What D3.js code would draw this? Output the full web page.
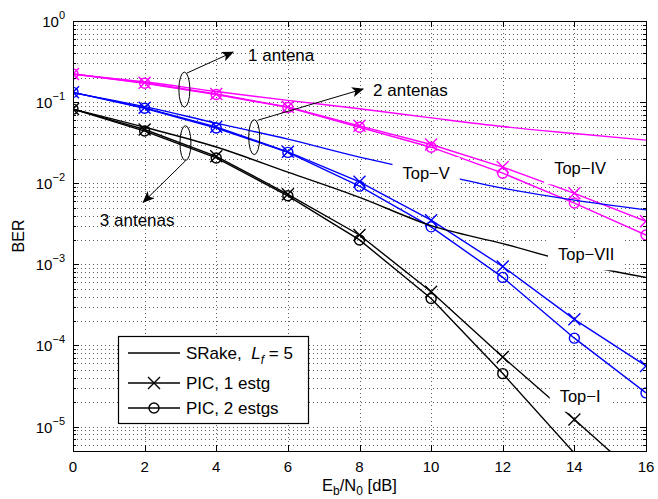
<!DOCTYPE html>
<html>
<head>
<meta charset="UTF-8" />
<script src="https://d3js.org/d3.v7.min.js"></script>
<style>
  body { margin: 0; background: #fff; }
  svg text { font-family: "Liberation Sans", Arial, Helvetica, sans-serif; fill: #000; }
</style>
</head>
<body>
<div id="chart"></div>
<script>
// Eb/N0 points (dB)
const ebn0 = [0, 2, 4, 6, 8, 10, 12, 14, 16];

// 1 antena (magenta)
const srake1 = [0.22, 0.178, 0.135, 0.105, 0.083, 0.064, 0.050, 0.041, 0.034];
const pic1a = [0.222, 0.173, 0.126, 0.087, 0.051, 0.030, 0.0158, 0.0075, 0.0034];
const pic1b = [0.222, 0.171, 0.124, 0.086, 0.049, 0.0278, 0.0133, 0.0057, 0.0023];

// 2 antenas (blue)
const srake2 = [0.13, 0.088, 0.055, 0.035, 0.021, 0.0135, 0.0087, 0.0062, 0.0047];
const pic2a = [0.132, 0.085, 0.0496, 0.0244, 0.0104, 0.0035, 0.00094, 0.00021, 0.000056];
const pic2b = [0.132, 0.084, 0.048, 0.024, 0.0092, 0.0029, 0.00069, 0.000123, 0.000026];

// 3 antenas (black)
const srake3 = [0.082, 0.049, 0.028, 0.0137, 0.0067, 0.0030, 0.0018, 0.00104, 0.00069];
const pic3a = [0.082, 0.046, 0.0215, 0.0073, 0.0023, 0.00046, 0.000072, 0.0000122, 0.000002];
const pic3b = [0.082, 0.044, 0.0205, 0.0070, 0.0020, 0.00038, 0.000045, 0.0000047, 0.0000005];

const xTicks = [0, 2, 4, 6, 8, 10, 12, 14, 16];
const yExps = [0, -1, -2, -3, -4, -5];

// topology labels: [text, x (dB), BER]
const topLabels = [
  ["Top\u2212V", 9.86, 0.0133],
  ["Top\u2212IV", 14.16, 0.0153],
  ["Top\u2212VII", 14.33, 0.00133],
  ["Top\u2212I", 14.16, 0.000024]
];

const width = 658, height = 499;
const margin = { top: 21, right: 12, bottom: 48, left: 73 };
const W = width - margin.left - margin.right;
const H = height - margin.top - margin.bottom;

const svg = d3.select("#chart").append("svg")
  .attr("width", width).attr("height", height);

const x = d3.scaleLinear().domain([0, 16]).range([0, W]);
const y = d3.scaleLog().domain([5e-6, 1]).range([H, 0]);

const g = svg.append("g").attr("transform", `translate(${margin.left},${margin.top})`);

g.append("defs").append("clipPath").attr("id", "clip")
  .append("rect").attr("width", W).attr("height", H);

// grid
const minorVals = [];
for (let k = -6; k <= -1; k++) {
  for (let m = 1; m <= 9; m++) {
    const v = m * Math.pow(10, k);
    if (v > 5e-6 && v < 1) minorVals.push(v);
  }
}
const grid = g.append("g").attr("stroke", "#333").attr("stroke-width", 0.8)
  .attr("stroke-dasharray", "1,3");
grid.selectAll(".hg").data(minorVals).enter().append("line")
  .attr("x1", 0).attr("x2", W)
  .attr("y1", d => Math.round(y(d)) + 0.5).attr("y2", d => Math.round(y(d)) + 0.5);
grid.selectAll(".vg").data(xTicks.slice(1, -1)).enter().append("line")
  .attr("y1", 0).attr("y2", H)
  .attr("x1", d => Math.round(x(d)) + 0.5).attr("x2", d => Math.round(x(d)) + 0.5);

// series
const series = [
  { v: srake1, color: "#ff00ff", m: null, smooth: true },
  { v: pic1a, color: "#ff00ff", m: "x" },
  { v: pic1b, color: "#ff00ff", m: "o" },
  { v: srake2, color: "#0000ff", m: null, smooth: true },
  { v: pic2a, color: "#0000ff", m: "x" },
  { v: pic2b, color: "#0000ff", m: "o" },
  { v: srake3, color: "#000000", m: null, smooth: true },
  { v: pic3a, color: "#000000", m: "x" },
  { v: pic3b, color: "#000000", m: "o" }
];

const plot = g.append("g").attr("clip-path", "url(#clip)");
const xPath = "M-6,-6L6,6M-6,6L6,-6";
const inRange = d => d[1] >= 5e-6 && d[1] <= 1;

series.forEach(s => {
  const pts = ebn0.map((e, i) => [e, s.v[i]]);
  const line = d3.line().x(d => x(d[0])).y(d => y(d[1]))
    .curve(s.smooth ? d3.curveMonotoneX : d3.curveLinear);
  plot.append("path").datum(pts)
    .attr("fill", "none").attr("stroke", s.color).attr("stroke-width", 1.4)
    .attr("d", line);
  // markers outside the axis range are not drawn
  const mp = pts.filter(inRange);
  if (s.m === "x") {
    plot.selectAll(null).data(mp).enter().append("path")
      .attr("transform", d => `translate(${x(d[0])},${y(d[1])})`)
      .attr("d", xPath).attr("stroke", s.color).attr("stroke-width", 1.4).attr("fill", "none");
  } else if (s.m === "o") {
    plot.selectAll(null).data(mp).enter().append("circle")
      .attr("cx", d => x(d[0])).attr("cy", d => y(d[1])).attr("r", 5)
      .attr("stroke", s.color).attr("stroke-width", 1.4).attr("fill", "none");
  }
});

// topology labels with white background
topLabels.forEach(t => {
  const cx = x(t[1]), cy = y(t[2]);
  const txt = g.append("text").attr("x", cx).attr("y", cy)
    .attr("text-anchor", "middle").attr("dominant-baseline", "central")
    .style("font-size", "16.5px").text(t[0]);
  const bb = txt.node().getBBox();
  g.insert("rect", () => txt.node())
    .attr("x", bb.x - 10).attr("y", cy - 16)
    .attr("width", bb.width + 20).attr("height", 32)
    .attr("fill", "#fff");
});

// antenna annotations: ellipses + arrows (data coords)
const ellipses = [[3.11, 0.1426], [5.06, 0.037], [3.14, 0.0312]];
const arrows = [
  [3.18, 0.228, 4.47, 0.414],
  [5.17, 0.060, 8.10, 0.145],
  [3.13, 0.0187, 1.96, 0.00582]
];
const antLabels = [["1 antena", 4.89, 0.38], ["2 antenas", 8.38, 0.14], ["3 antenas", 0.75, 0.00349]];

svg.append("defs").append("marker").attr("id", "ah")
  .attr("viewBox", "0 0 12 10").attr("refX", 11).attr("refY", 5)
  .attr("markerWidth", 12).attr("markerHeight", 10).attr("markerUnits", "userSpaceOnUse")
  .attr("orient", "auto")
  .append("path").attr("d", "M0,0L12,5L0,10L3,5Z").attr("fill", "#000");

g.selectAll(".ell").data(ellipses).enter().append("ellipse")
  .attr("cx", d => x(d[0])).attr("cy", d => y(d[1]))
  .attr("rx", 5.5).attr("ry", 17.5)
  .attr("fill", "none").attr("stroke", "#000").attr("stroke-width", 1);
g.selectAll(".arr").data(arrows).enter().append("line")
  .attr("x1", d => x(d[0])).attr("y1", d => y(d[1]))
  .attr("x2", d => x(d[2])).attr("y2", d => y(d[3]))
  .attr("stroke", "#000").attr("stroke-width", 1).attr("marker-end", "url(#ah)");
g.selectAll(".al").data(antLabels).enter().append("text")
  .attr("x", d => x(d[1])).attr("y", d => y(d[2]))
  .attr("dominant-baseline", "central").style("font-size", "17px")
  .text(d => d[0]);

// axes frame + ticks
const ax = g.append("g").attr("stroke", "#000").attr("stroke-width", 1);
xTicks.forEach(t => {
  const px = Math.round(x(t)) + 0.5;
  ax.append("line").attr("x1", px).attr("x2", px).attr("y1", H).attr("y2", H - 6);
  ax.append("line").attr("x1", px).attr("x2", px).attr("y1", 0).attr("y2", 6);
});
minorVals.concat(yExps.map(e => Math.pow(10, e))).forEach(v => {
  const major = yExps.some(e => Math.abs(Math.log10(v) - e) < 1e-9);
  const len = major ? 6 : 3;
  const py = Math.round(y(v)) + 0.5;
  ax.append("line").attr("x1", 0).attr("x2", len).attr("y1", py).attr("y2", py);
  ax.append("line").attr("x1", W).attr("x2", W - len).attr("y1", py).attr("y2", py);
});
g.append("rect").attr("x", 0.5).attr("y", 0.5).attr("width", W).attr("height", H)
  .attr("fill", "none").attr("stroke", "#000").attr("stroke-width", 1);

// tick labels
g.selectAll(".xt").data(xTicks).enter().append("text")
  .attr("x", d => x(d)).attr("y", H + 21)
  .attr("text-anchor", "middle").style("font-size", "15px").text(d => d);

yExps.forEach(e => {
  const t = g.append("text").attr("x", -8).attr("y", y(Math.pow(10, e)) + 6)
    .attr("text-anchor", "end").style("font-size", "15px");
  t.append("tspan").text("10");
  t.append("tspan").attr("dy", -8).style("font-size", "11px")
    .text(e === 0 ? "0" : "\u2212" + (-e));
});

// axis titles
const xl = svg.append("text").attr("x", margin.left + W / 2).attr("y", 491)
  .attr("text-anchor", "middle").style("font-size", "16.5px");
xl.append("tspan").text("E");
xl.append("tspan").attr("dy", 4).style("font-size", "12px").text("b");
xl.append("tspan").attr("dy", -4).text("/N");
xl.append("tspan").attr("dy", 4).style("font-size", "12px").text("0");
xl.append("tspan").attr("dy", -4).text("\u00a0[dB]");

svg.append("text").attr("transform", `translate(24,${margin.top + H / 2}) rotate(-90)`)
  .attr("text-anchor", "middle").style("font-size", "16px").text("BER");

// legend
const lg = svg.append("g");
lg.append("rect").attr("x", 118.5).attr("y", 336.5).attr("width", 190).attr("height", 87)
  .attr("fill", "#fff").attr("stroke", "#000").attr("stroke-width", 1.2);
const legRows = [
  { y: 353, m: null, label: "srake" },
  { y: 383, m: "x", label: "PIC, 1 estg" },
  { y: 408, m: "o", label: "PIC, 2 estgs" }
];
legRows.forEach(r => {
  lg.append("line").attr("x1", 128).attr("x2", 180).attr("y1", r.y).attr("y2", r.y)
    .attr("stroke", "#000").attr("stroke-width", 1.4);
  if (r.m === "x") {
    lg.append("path").attr("transform", `translate(154,${r.y})`).attr("d", xPath)
      .attr("stroke", "#000").attr("stroke-width", 1.4);
  } else if (r.m === "o") {
    lg.append("circle").attr("cx", 154).attr("cy", r.y).attr("r", 5)
      .attr("fill", "none").attr("stroke", "#000").attr("stroke-width", 1.4);
  }
  const t = lg.append("text").attr("x", 186).attr("y", r.y + 6).style("font-size", "17px");
  if (r.label === "srake") {
    t.append("tspan").text("SRake,\u00a0\u00a0");
    t.append("tspan").style("font-style", "italic").text("L");
    t.append("tspan").attr("dy", 5).style("font-style", "italic").style("font-size", "12px").text("f");
    t.append("tspan").attr("dy", -5).text("\u00a0=\u00a05");
  } else {
    t.text(r.label);
  }
});
</script>
</body>
</html>
